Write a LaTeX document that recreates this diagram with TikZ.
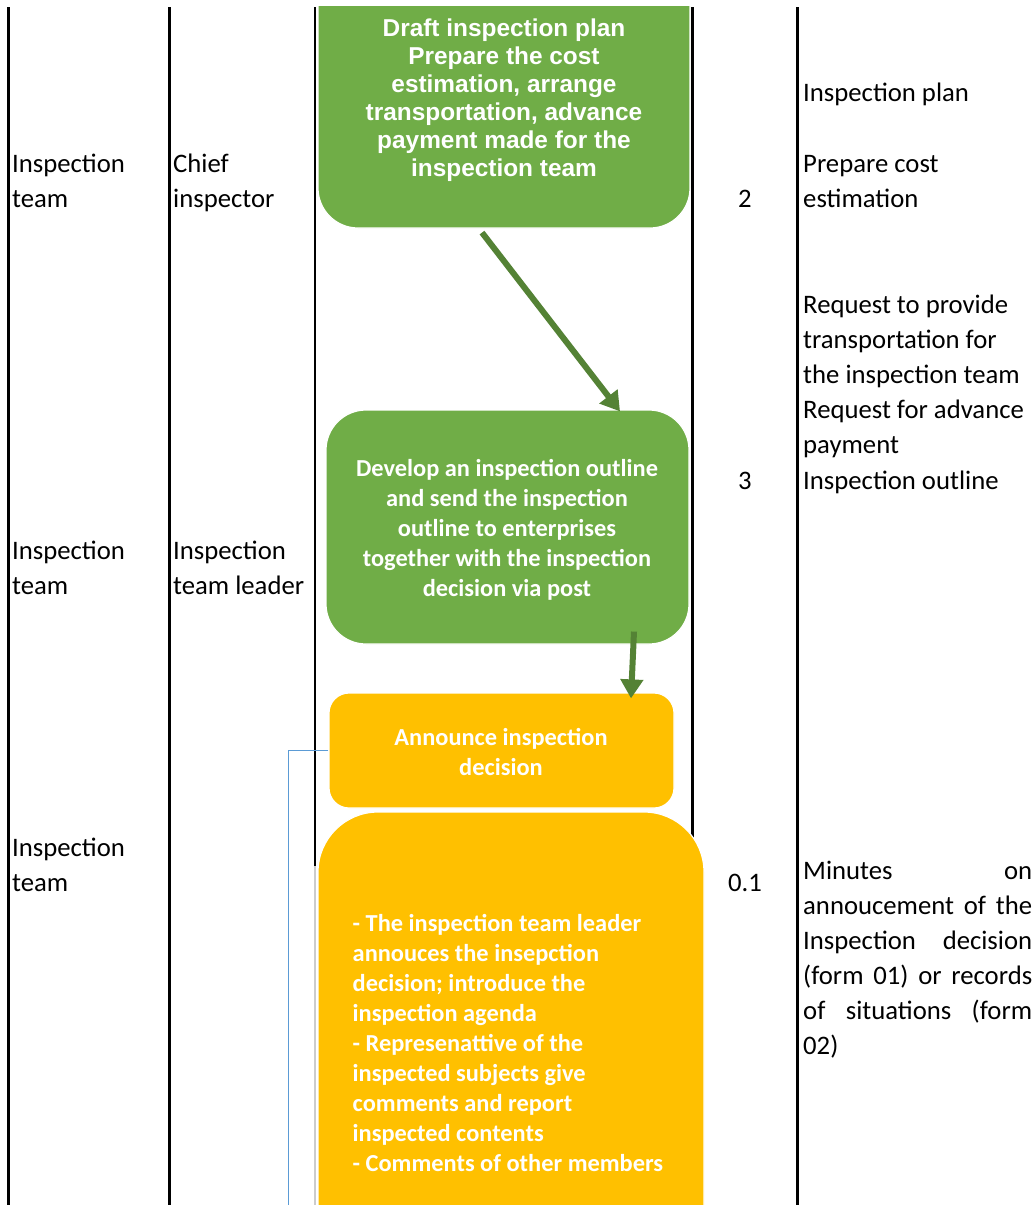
\documentclass[tikz,border=0pt]{standalone}
\usepackage{fontspec}
\setmainfont{Carlito}
\newfontfamily\arialf{Liberation Sans}
\usetikzlibrary{arrows.meta,calc}
\definecolor{gfill}{HTML}{70AD47}
\definecolor{garrow}{HTML}{548235}
\definecolor{yfill}{HTML}{FFC000}
\definecolor{bline}{HTML}{5B9BD5}
\tikzset{
  colline/.style={line width=3pt,black},
  gbox/.style={rectangle,fill=gfill,draw=white,line width=1.2pt,inner sep=0},
  ybox/.style={rectangle,fill=yfill,draw=white,line width=1.2pt,inner sep=0},
  flow/.style={line width=6pt,garrow,-{Triangle[width=22pt,length=19pt]}},
  lbl/.style={font=\fontsize{26.7}{35}\selectfont,anchor=base west,inner sep=0},
  num/.style={font=\fontsize{26.7}{35}\selectfont,anchor=base,inner sep=0},
  atxt/.style={font=\arialf\bfseries\fontsize{24.4}{28}\selectfont,text=white,anchor=base,inner sep=0},
  ctxt/.style={font=\bfseries\fontsize{24.4}{30}\selectfont,text=white,anchor=base,inner sep=0},
  ltxt/.style={font=\bfseries\fontsize{24.4}{30}\selectfont,text=white,anchor=base west,inner sep=0},
}
\newcommand{\jline}[1]{\makebox[229pt][s]{#1}}
\begin{document}
\begin{tikzpicture}[x=1pt,y=-1pt]
\useasboundingbox (0,0) rectangle (1036,1205);
\fill[white] (0,0) rectangle (1036,1205);
% table column rules
\draw[colline] (8,7) -- (8,1205);
\draw[colline] (169,7) -- (169,1205);
\draw[line width=1.5pt] (315,7) -- (315,866);
\draw[line width=1.5pt,black!20] (315,866) -- (315,1205);
\draw[line width=2.5pt] (692.5,7) -- (692.5,1205);
\draw[colline] (797,7) -- (797,1205);
% boxes
\begin{scope}
\clip (300,6) rectangle (720,300);
\node[gbox,rounded corners=40pt,minimum width=372pt,minimum height=268pt] (box1) at (504,94) {};
\end{scope}
\node[gbox,rounded corners=40pt,minimum width=363pt,minimum height=234pt] (box2) at (507.5,527) {};
\node[ybox,rounded corners=20pt,minimum width=345pt,minimum height=115pt] (box3) at (501.5,750.5) {};
\node[ybox,rounded corners=60pt,minimum width=386pt,minimum height=588pt] (box4) at (511,1106) {};
% connectors
\coordinate (blueend) at (288,1205);
\draw[bline,line width=1pt] (box3.west) -| (blueend);
\draw[flow] ($(box1.south)+(-22,4)$) -- ($(box2.north)+(112.5,2)$);
\draw[flow] ($(box2.south)+(126.5,-13)$) -- ($(box3.north)+(129.5,6)$);
% box texts
\node[atxt] (t1a) at (504,36) {Draft inspection plan};
\node[atxt] (t1b) at (504,64) {Prepare the cost};
\node[atxt] (t1c) at (504,92) {estimation, arrange};
\node[atxt] (t1d) at (504,120) {transportation, advance};
\node[atxt] (t1e) at (504,148) {payment made for the};
\node[atxt] (t1f) at (504,176) {inspection team};
\node[ctxt] (t2a) at (507,476) {Develop an inspection outline};
\node[ctxt] (t2b) at (507,506) {and send the inspection};
\node[ctxt] (t2c) at (507,536) {outline to enterprises};
\node[ctxt] (t2d) at (507,566) {together with the inspection};
\node[ctxt] (t2e) at (507,596) {decision via post};
\node[ctxt] (t3a) at (501,745) {Announce inspection};
\node[ctxt] (t3b) at (501,775) {decision};
\node[ltxt] (t4a) at (352.5,931) {- The inspection team leader};
\node[ltxt] (t4b) at (352.5,961) {annouces the insepction};
\node[ltxt] (t4c) at (352.5,991) {decision; introduce the};
\node[ltxt] (t4d) at (352.5,1021) {inspection agenda};
\node[ltxt] (t4e) at (352.5,1051) {- Represenattive of the};
\node[ltxt] (t4f) at (352.5,1081) {inspected subjects give};
\node[ltxt] (t4g) at (352.5,1111) {comments and report};
\node[ltxt] (t4h) at (352.5,1141) {inspected contents};
\node[ltxt] (t4i) at (352.5,1171) {- Comments of other members};
% left columns
\node[lbl] (l1a) at (12,172) {Inspection};
\node[lbl] (l1b) at (12,207) {team};
\node[lbl] (l2a) at (12,559) {Inspection};
\node[lbl] (l2b) at (12,594) {team};
\node[lbl] (l3a) at (12,856) {Inspection};
\node[lbl] (l3b) at (12,891) {team};
\node[lbl] (r1a) at (173,172) {Chief};
\node[lbl] (r1b) at (173,207) {inspector};
\node[lbl] (r2a) at (173,559) {Inspection};
\node[lbl] (r2b) at (173,594) {team leader};
% numbers
\node[num] (n1) at (745,207) {2};
\node[num] (n2) at (745,489) {3};
\node[num] (n3) at (745,891) {0.1};
% right column
\node[lbl] (o1) at (803,101) {Inspection plan};
\node[lbl] (o2) at (803,172) {Prepare cost};
\node[lbl] (o3) at (803,207) {estimation};
\node[lbl] (o4) at (803,313) {Request to provide};
\node[lbl] (o5) at (803,348) {transportation for};
\node[lbl] (o6) at (803,383) {the inspection team};
\node[lbl] (o7) at (803,418) {Request for advance};
\node[lbl] (o8) at (803,453) {payment};
\node[lbl] (o9) at (803,489) {Inspection outline};
\node[lbl] (m1) at (803,879) {\jline{Minutes on}};
\node[lbl] (m2) at (803,914) {\jline{annoucement of the}};
\node[lbl] (m3) at (803,949) {\jline{Inspection decision}};
\node[lbl] (m4) at (803,984) {\jline{(form 01) or records}};
\node[lbl] (m5) at (803,1019) {\jline{of situations (form}};
\node[lbl] (m6) at (803,1054) {02)};
\end{tikzpicture}
\end{document}
